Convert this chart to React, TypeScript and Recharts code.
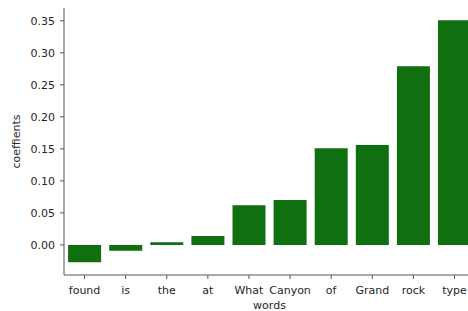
import { BarChart, Bar, XAxis, YAxis } from "recharts";

const words = ["found", "is", "the", "at", "What", "Canyon", "of", "Grand", "rock", "type"];
const coefficients = [-0.027, -0.009, 0.004, 0.014, 0.062, 0.07, 0.151, 0.156, 0.279, 0.351];
const yTicks = [0, 0.05, 0.1, 0.15, 0.2, 0.25, 0.3, 0.35];

const data = words.map((w, i) => ({ word: w, value: coefficients[i] }));

const font = "'DejaVu Sans', sans-serif";
const tickStyle = { fontSize: 11, fill: "#262626", fontFamily: font };

export default function App() {
  return (
    <div
      style={{
        position: "absolute",
        left: 0,
        top: 0,
        width: 468,
        height: 311,
        overflow: "hidden",
        background: "#fff",
      }}
    >
      <BarChart
        width={480}
        height={311}
        data={data}
        margin={{ top: 8, right: 5, left: 0, bottom: 0 }}
        barCategoryGap="10%"
      >
        <XAxis
          dataKey="word"
          height={36}
          tick={tickStyle}
          tickSize={4}
          tickMargin={7}
          axisLine={{ stroke: "#555" }}
          tickLine={{ stroke: "#555" }}
          interval={0}
          label={{
            value: "words",
            position: "insideBottom",
            offset: 2,
            style: { fontSize: 11, fill: "#262626", fontFamily: font },
          }}
        />
        <XAxis
          xAxisId="top"
          dataKey="word"
          orientation="top"
          height={0}
          tick={false}
          tickLine={false}
          axisLine={{ stroke: "#555" }}
        />
        <YAxis
          width={64}
          domain={[-0.047, 0.37]}
          allowDataOverflow
          ticks={yTicks}
          tickFormatter={(v: number) => v.toFixed(2)}
          tick={tickStyle}
          tickSize={4}
          tickMargin={5}
          axisLine={{ stroke: "#555" }}
          tickLine={{ stroke: "#555" }}
          label={{
            content: ({ viewBox }: any) => (
              <text
                x={16}
                y={viewBox.y + viewBox.height / 2}
                transform={`rotate(-90, 16, ${viewBox.y + viewBox.height / 2})`}
                textAnchor="middle"
                dominantBaseline="central"
                style={{ fontSize: 11, fill: "#262626", fontFamily: font }}
              >
                coeffients
              </text>
            ),
          }}
        />
        <Bar dataKey="value" fill="#107010" isAnimationActive={false} />
      </BarChart>
    </div>
  );
}
